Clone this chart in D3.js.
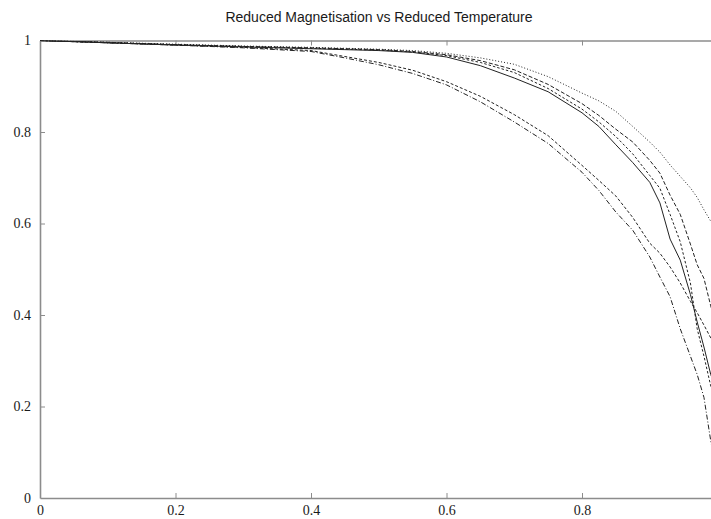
<!DOCTYPE html>
<html>
<head>
<meta charset="utf-8">
<script src="https://cdn.jsdelivr.net/npm/d3@7"></script>
<style>
  body { margin: 0; background: #fff; }
</style>
</head>
<body>
<div id="d3-container"></div>
<script>
// reduced temperature (shared x grid)
const temps = [0, 0.1, 0.2, 0.3, 0.4, 0.45, 0.5, 0.55, 0.6, 0.65, 0.7, 0.75, 0.8,
  0.825, 0.85, 0.875, 0.9, 0.915, 0.93, 0.945, 0.96, 0.97, 0.98, 0.99, 1.0];

// reduced magnetisation, one array per curve
const magDotted = [1, 0.996, 0.992, 0.988, 0.985, 0.983, 0.981, 0.978, 0.972, 0.962, 0.948, 0.921, 0.885,
  0.868, 0.845, 0.812, 0.778, 0.756, 0.728, 0.703, 0.678, 0.657, 0.63, 0.605, 0.58];
const magDashed = [1, 0.996, 0.991, 0.987, 0.984, 0.982, 0.98, 0.976, 0.969, 0.956, 0.936, 0.904, 0.862,
  0.836, 0.806, 0.778, 0.738, 0.71, 0.662, 0.62, 0.555, 0.51, 0.48, 0.42, 0.37];
const magShortDash = [1, 0.995, 0.991, 0.987, 0.983, 0.981, 0.979, 0.975, 0.967, 0.952, 0.93, 0.895, 0.85,
  0.822, 0.79, 0.752, 0.705, 0.677, 0.62, 0.56, 0.47, 0.37, 0.31, 0.245, 0.2];
const magSolid = [1, 0.995, 0.99, 0.986, 0.982, 0.98, 0.978, 0.974, 0.964, 0.945, 0.918, 0.888, 0.842,
  0.812, 0.772, 0.733, 0.69, 0.645, 0.566, 0.52, 0.445, 0.385, 0.33, 0.27, 0.23];
const magLowDash = [1, 0.995, 0.99, 0.985, 0.978, 0.965, 0.952, 0.935, 0.91, 0.878, 0.838, 0.792, 0.727,
  0.694, 0.66, 0.613, 0.557, 0.535, 0.505, 0.47, 0.43, 0.405, 0.378, 0.35, 0.3];
const magDashDot = [1, 0.995, 0.99, 0.984, 0.976, 0.962, 0.947, 0.928, 0.903, 0.866, 0.822, 0.775, 0.712,
  0.672, 0.625, 0.585, 0.527, 0.483, 0.44, 0.37, 0.31, 0.27, 0.22, 0.125, 0.05];

const seriesList = [magDotted, magDashed, magShortDash, magSolid, magLowDash, magDashDot];
const dashes = ["1,2", "4,2", "2.5,2", null, "3,2", "5,2,1,2"];

const xTicks = [0, 0.2, 0.4, 0.6, 0.8];
const yTicks = [0, 0.2, 0.4, 0.6, 0.8, 1];
const title = "Reduced Magnetisation vs Reduced Temperature";

document.addEventListener("DOMContentLoaded", function() {
  magChart();
});

function magChart() {
  const width = 711;
  const height = 519;
  const margin = { top: 40.5, bottom: 21, left: 40, right: -6.5 };

  const svg = d3.select('#d3-container')
    .append('svg')
    .attr('width', width)
    .attr('height', height)
    .style('display', 'block');

  const x = d3.scaleLinear()
    .domain([0, 1])
    .range([margin.left, width - margin.right]);

  const y = d3.scaleLinear()
    .domain([0, 1])
    .range([height - margin.bottom, margin.top]);

  svg.append("clipPath")
    .attr("id", "plotclip")
    .append("rect")
    .attr("x", x(0))
    .attr("y", y(1))
    .attr("width", x(1) - x(0))
    .attr("height", y(0) - y(1));

  // axes: gray box with inward ticks, serif labels
  const axisColor = "#8c8c8c";
  function styleAxis(g) {
    g.select(".domain").attr("stroke", axisColor).attr("stroke-width", 1.6);
    g.selectAll(".tick line").attr("stroke", axisColor).attr("stroke-width", 1);
    g.selectAll(".tick text")
      .attr("fill", "#1a1a1a")
      .attr("font-family", "'Liberation Serif', 'DejaVu Serif', serif")
      .attr("font-size", "14px");
  }

  svg.append("g")
    .attr("transform", `translate(0,${y(0)})`)
    .call(d3.axisBottom(x).tickValues(xTicks).tickSizeInner(-5).tickSizeOuter(0)
      .tickPadding(7).tickFormat(d3.format("~g")))
    .call(styleAxis);

  svg.append("g")
    .attr("transform", `translate(0,${y(1)})`)
    .call(d3.axisTop(x).tickValues(xTicks.slice(1)).tickSizeInner(-5).tickSizeOuter(0)
      .tickFormat(""))
    .call(styleAxis);

  svg.append("g")
    .attr("transform", `translate(${x(0)},0)`)
    .call(d3.axisLeft(y).tickValues(yTicks).tickSizeInner(-5).tickSizeOuter(0)
      .tickPadding(9).tickFormat(d3.format("~g")))
    .call(styleAxis)
    .call(g => g.selectAll(".tick").filter(d => d === 0 || d === 1).select("line").remove());

  const line = d3.line()
    .x((d, i) => x(temps[i]))
    .y(d => y(d));

  svg.append("g")
    .attr("clip-path", "url(#plotclip)")
    .selectAll("path")
    .data(seriesList)
    .join("path")
      .attr("d", d => line(d))
      .attr("fill", "none")
      .attr("stroke", "#222")
      .attr("stroke-width", 1)
      .attr("stroke-dasharray", (d, i) => dashes[i]);

  svg.append("text")
    .attr("x", 379)
    .attr("y", 22)
    .attr("text-anchor", "middle")
    .attr("font-family", "'Liberation Sans', Arial, sans-serif")
    .attr("font-size", "14px")
    .attr("fill", "#1a1a1a")
    .text(title);
}
</script>
</body>
</html>
